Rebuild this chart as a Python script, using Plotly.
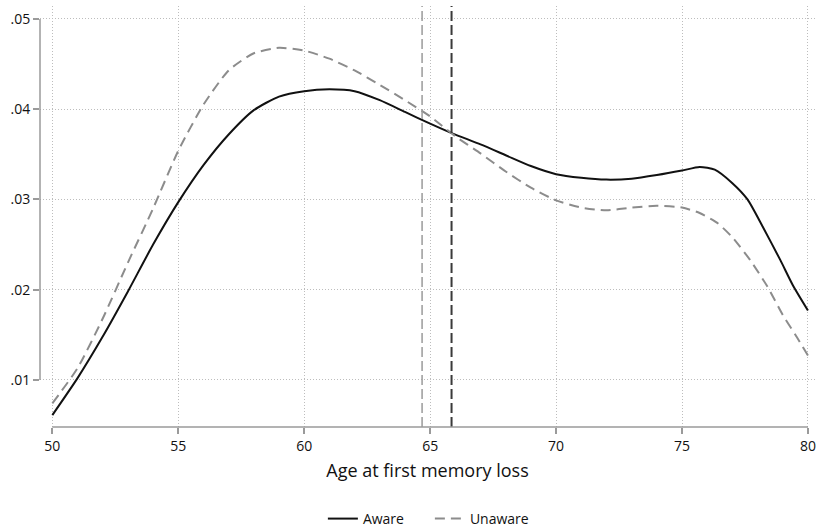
import plotly.graph_objects as go

# ---- data ----
aware_age = [50, 51, 52, 53, 54, 55, 56, 57, 58, 59, 60, 61, 62, 63, 64, 65, 65.9, 67, 68, 69,
             70, 71, 72, 73, 74, 75, 75.7, 76.3, 77, 77.6, 78.2, 78.9, 79.4, 80]
aware_dens = [0.0061, 0.0102, 0.0148, 0.0198, 0.0250, 0.0297, 0.0338, 0.0372, 0.0399, 0.0414,
              0.0420, 0.0422, 0.0420, 0.0410, 0.0397, 0.0384, 0.0373, 0.0361, 0.0349, 0.0337,
              0.0328, 0.0324, 0.0322, 0.0323, 0.0327, 0.0332, 0.0336, 0.0333, 0.0318, 0.0300,
              0.0270, 0.0233, 0.0205, 0.0177]

unaware_age = [50, 51, 52, 53, 54, 55, 56, 57, 58, 59, 60, 61, 62, 63, 64, 65, 66, 67, 68, 69,
               70, 71, 72, 73, 74, 75, 75.7, 76.4, 77, 77.7, 78.4, 79, 79.5, 80]
unaware_dens = [0.0074, 0.0113, 0.0168, 0.0230, 0.0290, 0.0354, 0.0405, 0.0443, 0.0462, 0.0468,
                0.0465, 0.0456, 0.0443, 0.0427, 0.0410, 0.0392, 0.0370, 0.0351, 0.0331, 0.0313,
                0.0299, 0.0291, 0.0288, 0.0291, 0.0293, 0.0291, 0.0285, 0.0274, 0.0258, 0.0233,
                0.0203, 0.0172, 0.0150, 0.0127]

aware_mean = 65.85
unaware_mean = 64.68

x_ticks = [50, 55, 60, 65, 70, 75, 80]
x_labels = ["50", "55", "60", "65", "70", "75", "80"]
y_ticks = [0.01, 0.02, 0.03, 0.04, 0.05]
y_labels = [".01", ".02", ".03", ".04", ".05"]

FONT = "Open Sans"
AXIS_COLOR = "#9a9a9a"
GRID_COLOR = "#bdbdbd"

fig = go.Figure()

fig.add_trace(go.Scatter(
    x=aware_age, y=aware_dens, name="Aware", mode="lines",
    line=dict(color="#111111", width=2, shape="spline", smoothing=0.6),
))
fig.add_trace(go.Scatter(
    x=unaware_age, y=unaware_dens, name="Unaware", mode="lines",
    line=dict(color="#8c8c8c", width=2, dash="10px,6px", shape="spline", smoothing=0.6),
))

# vertical reference lines
fig.add_vline(x=unaware_mean, line=dict(color="#9a9a9a", width=1.5, dash="10px,4px"), layer="above")
fig.add_vline(x=aware_mean, line=dict(color="#3a3a3a", width=2, dash="10px,4px"), layer="above")

# axis lines spanning only the tick range (Stata style)
fig.add_shape(type="line", xref="paper", yref="y", x0=0, x1=0,
              y0=min(y_ticks), y1=max(y_ticks), line=dict(color=AXIS_COLOR, width=1.5))
fig.add_shape(type="line", xref="x", yref="paper", x0=min(x_ticks), x1=max(x_ticks),
              y0=0, y1=0, line=dict(color=AXIS_COLOR, width=1.5))

fig.update_layout(
    width=819, height=530,
    margin=dict(l=40, r=4, t=6, b=103, autoexpand=False),
    plot_bgcolor="white", paper_bgcolor="white",
    font=dict(family=FONT, size=14, color="#111111"),
    showlegend=True,
    legend=dict(orientation="h", x=0.365, xanchor="left", y=-0.2185, yanchor="middle",
                font=dict(family=FONT, size=14, color="#111111"), itemwidth=30,
                entrywidth=62, entrywidthmode="pixels",
                bgcolor="rgba(0,0,0,0)"),
)

fig.update_xaxes(
    range=[49.51, 80.28], tickmode="array", tickvals=x_ticks, ticktext=x_labels,
    showgrid=True, gridcolor=GRID_COLOR, griddash="1px,2px", gridwidth=1,
    zeroline=False, showline=False,
    ticks="outside", ticklen=6, tickcolor=AXIS_COLOR, tickwidth=1.5,
    tickfont=dict(family=FONT, size=14, color="#111111"),
    title=dict(text="Age at first memory loss", font=dict(family=FONT, size=18, color="#111111"),
               standoff=10),
)
fig.update_yaxes(
    range=[0.00478, 0.05144], tickmode="array", tickvals=y_ticks, ticktext=y_labels,
    showgrid=True, gridcolor=GRID_COLOR, griddash="1px,2px", gridwidth=1,
    zeroline=False, showline=False,
    ticks="outside", ticklen=6, tickcolor=AXIS_COLOR, tickwidth=1.5,
    tickfont=dict(family=FONT, size=14, color="#111111"),
)

fig.write_html("out.html")
